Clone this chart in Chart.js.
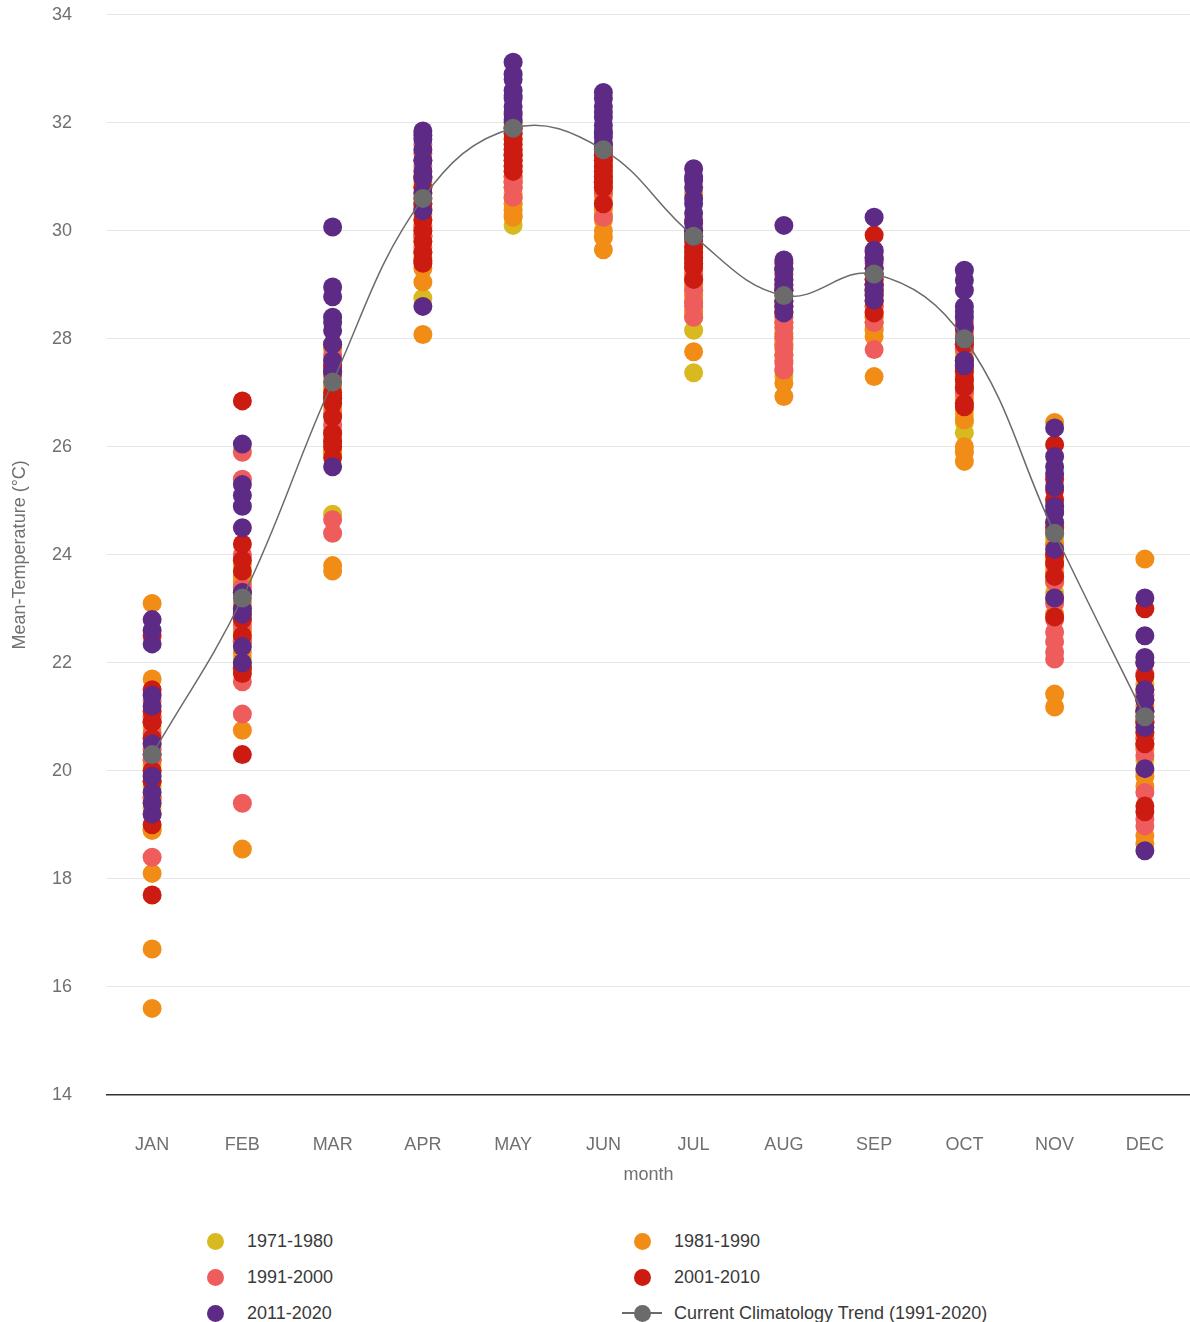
<!DOCTYPE html>
<html>
<head>
<meta charset="utf-8">
<script src="https://cdn.jsdelivr.net/npm/chart.js@4.4.0/dist/chart.umd.min.js"></script>
<style>
  body { margin: 0; background: #fff; font-family: "Liberation Sans", Arial, sans-serif; overflow: hidden; }
  #wrap { position: relative; width: 1190px; height: 1195px; }
  #leyenda { position: relative; width: 1190px; height: 127px; }
  .item { position: absolute; font-size: 18px; color: #3a3a3a; line-height: 20px; }
  .punto { position: absolute; width: 17px; height: 17px; border-radius: 50%; }
  .linea { position: absolute; height: 2px; background: #6b6b6b; }
</style>
</head>
<body>
<div id="wrap"><canvas id="grafico"></canvas></div>
<div id="leyenda"></div>
<script>
// Meses y tendencia climatologica
let meses = ["JAN", "FEB", "MAR", "APR", "MAY", "JUN", "JUL", "AUG", "SEP", "OCT", "NOV", "DEC"];
let tendencia = [20.3, 23.2, 27.2, 30.6, 31.9, 31.5, 29.9, 28.8, 29.2, 28.0, 24.4, 21.0];
let ticksY = [14, 16, 18, 20, 22, 24, 26, 28, 30, 32, 34];

// Temperatura media por decada (una fila por mes, un valor por año)
let d1971 = [
    [20.1, 18.9, 20.0, 19.5, 20.5, 19.8, 20.2, 19.3, 20.8, 19.7],
    [22.8, 23.0, 22.4, 23.5, 22.1, 23.8, 22.6, 22.9, 23.3, 22.0],
    [24.75, 27.0, 26.3, 27.5, 26.8, 25.9, 27.2, 26.6, 27.8, 26.0],
    [28.75, 29.8, 30.2, 30.5, 29.5, 30.9, 30.0, 29.9, 30.4, 29.6],
    [30.1, 30.5, 31.0, 30.8, 31.3, 30.3, 31.6, 30.9, 31.2, 30.7],
    [30.3, 30.8, 31.0, 30.6, 31.2, 30.9, 31.4, 30.5, 31.1, 30.7],
    [28.16, 27.37, 28.8, 29.2, 28.5, 29.5, 28.9, 29.0, 28.4, 29.4],
    [27.3, 28.0, 28.3, 27.9, 28.5, 27.7, 28.2, 28.6, 27.8, 28.1],
    [28.3, 28.6, 28.9, 28.2, 29.0, 28.5, 28.8, 29.1, 28.4, 28.7],
    [26.45, 26.26, 27.0, 27.4, 26.8, 27.7, 27.2, 26.6, 27.9, 27.1],
    [24.0, 23.6, 24.5, 23.3, 24.8, 23.9, 24.2, 23.7, 25.0, 24.3],
    [20.5, 21.0, 20.2, 21.3, 20.8, 21.6, 20.6, 21.1, 20.9, 21.4]
];
let d1981 = [
    [23.1, 21.7, 18.1, 16.7, 15.6, 18.9, 19.5, 20.6, 21.0, 20.2],
    [23.5, 22.6, 20.75, 18.55, 22.2, 23.1, 21.9, 22.8, 23.6, 22.4],
    [23.8, 23.7, 27.85, 26.9, 27.4, 26.2, 27.6, 26.7, 27.1, 25.9],
    [29.05, 28.08, 29.9, 30.3, 29.6, 30.7, 31.0, 29.3, 30.1, 30.5],
    [30.38, 30.25, 30.6, 31.1, 30.9, 31.4, 30.5, 31.7, 31.0, 30.8],
    [30.0, 29.88, 29.65, 30.4, 31.0, 30.7, 31.3, 30.2, 30.9, 31.1],
    [30.7, 28.66, 27.76, 29.0, 29.6, 28.8, 29.3, 28.5, 29.9, 29.1],
    [27.18, 26.93, 27.4, 27.9, 28.3, 27.6, 28.1, 28.5, 27.7, 28.0],
    [28.16, 28.04, 27.3, 28.6, 29.0, 28.4, 28.8, 29.2, 28.3, 28.9],
    [26.0, 25.9, 25.73, 26.5, 27.3, 26.9, 27.6, 27.1, 26.7, 27.8],
    [26.45, 23.67, 23.49, 21.42, 21.18, 23.9, 24.2, 22.9, 24.6, 23.2],
    [23.92, 19.72, 18.8, 18.65, 20.4, 21.2, 20.0, 21.5, 20.7, 19.9]
];
let d1991 = [
    [18.4, 20.4, 20.7, 21.0, 19.8, 20.2, 19.5, 21.3, 20.9, 19.2],
    [25.4, 25.9, 21.65, 21.05, 19.4, 22.4, 23.0, 24.0, 22.7, 23.4],
    [24.65, 24.4, 27.7, 27.3, 26.4, 26.9, 27.5, 26.1, 27.9, 26.6],
    [31.43, 30.07, 29.7, 31.6, 30.8, 31.2, 30.4, 29.9, 31.0, 30.6],
    [30.8, 30.62, 31.4, 31.2, 31.8, 31.0, 31.5, 30.9, 31.9, 31.3],
    [30.25, 30.7, 31.0, 31.3, 30.5, 31.5, 30.9, 31.2, 30.8, 31.4],
    [29.08, 28.9, 28.4, 29.3, 29.7, 28.7, 29.5, 30.0, 29.2, 28.6],
    [28.22, 28.04, 27.85, 27.55, 27.42, 28.4, 28.7, 28.9, 27.7, 28.3],
    [27.8, 28.5, 29.0, 28.7, 29.3, 28.3, 29.1, 28.9, 28.6, 29.4],
    [27.05, 27.5, 27.9, 27.3, 28.1, 27.6, 27.2, 28.3, 27.8, 27.0],
    [22.57, 22.39, 22.07, 23.5, 24.0, 22.8, 24.4, 23.1, 22.2, 23.8],
    [20.47, 20.28, 19.1, 18.98, 21.0, 21.4, 20.6, 21.8, 20.9, 19.6]
];
let d2001 = [
    [17.7, 19.0, 20.9, 20.6, 21.1, 22.5, 19.8, 20.3, 21.5, 20.0],
    [26.85, 23.9, 23.7, 22.5, 21.8, 20.3, 23.3, 22.8, 21.9, 24.2],
    [27.37, 26.8, 26.55, 26.25, 26.0, 25.8, 27.5, 26.1, 26.9, 27.0],
    [29.45, 29.4, 30.2, 30.8, 31.0, 29.8, 30.5, 31.3, 29.6, 30.0],
    [31.6, 31.1, 31.4, 31.8, 32.0, 31.3, 31.9, 31.5, 31.2, 31.7],
    [31.2, 31.0, 30.5, 31.4, 31.6, 31.1, 31.3, 30.8, 31.5, 30.9],
    [29.5, 29.33, 29.7, 30.0, 29.1, 29.8, 29.6, 30.2, 29.4, 29.9],
    [29.09, 28.7, 28.9, 29.2, 28.5, 29.3, 28.8, 29.0, 28.6, 29.4],
    [29.92, 28.48, 29.0, 29.3, 28.8, 29.5, 29.1, 28.7, 29.2, 29.6],
    [27.24, 26.8, 26.74, 27.5, 27.9, 28.2, 27.6, 27.1, 28.0, 27.4],
    [26.04, 25.02, 23.85, 22.85, 24.5, 25.4, 24.0, 24.8, 23.6, 25.2],
    [23.0, 21.75, 20.72, 19.35, 19.24, 21.1, 20.5, 21.3, 22.0, 20.9]
];
let d2011 = [
    [22.8, 22.6, 22.35, 21.4, 21.2, 19.9, 19.6, 19.4, 19.2, 20.5],
    [26.05, 25.3, 25.1, 24.9, 24.5, 23.3, 22.9, 22.3, 22.0, 23.0],
    [30.07, 28.96, 28.78, 28.4, 28.15, 27.6, 25.63, 27.9, 28.3, 27.4],
    [31.85, 31.77, 31.7, 31.1, 30.97, 30.37, 28.6, 31.3, 30.7, 31.5],
    [33.12, 32.9, 32.6, 32.45, 32.3, 32.15, 32.05, 32.5, 32.8, 32.2],
    [32.56, 32.45, 32.3, 32.1, 31.95, 31.85, 31.73, 31.6, 32.2, 31.8],
    [31.15, 30.93, 30.5, 30.33, 30.14, 30.8, 30.0, 31.0, 30.6, 29.9],
    [30.1, 29.46, 29.27, 28.6, 28.48, 29.1, 28.9, 29.3, 29.0, 28.7],
    [30.25, 29.64, 29.46, 28.84, 28.72, 29.3, 29.0, 29.5, 29.2, 28.9],
    [29.27, 29.09, 28.6, 28.4, 28.22, 27.6, 27.5, 28.9, 28.0, 28.5],
    [26.35, 25.82, 25.63, 25.26, 24.78, 24.6, 24.1, 23.2, 25.5, 24.9],
    [23.2, 22.5, 22.1, 22.0, 21.5, 21.32, 20.04, 18.52, 21.1, 20.8]
];

// Pasa las filas por mes a puntos {x: mes, y: valor}
function aPuntos(filas) {
    let puntos = [];
    filas.forEach(function (fila, i) {
        fila.forEach(function (v) {
            puntos.push({ x: meses[i], y: v });
        });
    });
    return puntos;
}

function decada(nombre, filas, color, orden) {
    return {
        label: nombre,
        data: aPuntos(filas),
        showLine: false,
        pointRadius: 9.5,
        pointHoverRadius: 9.5,
        pointBackgroundColor: color,
        pointBorderWidth: 0,
        backgroundColor: color,
        borderColor: color,
        order: orden
    };
}

let series = [
    decada("1971-1980", d1971, "#d8b91f", 5),
    decada("1981-1990", d1981, "#f18d17", 4),
    decada("1991-2000", d1991, "#ef5c5c", 3),
    decada("2001-2010", d2001, "#cc1b10", 2),
    decada("2011-2020", d2011, "#5d2a85", 1),
    {
        label: "Current Climatology Trend (1991-2020)",
        data: tendencia,
        borderColor: "#6b6b6b",
        backgroundColor: "#6b6b6b",
        borderWidth: 1.5,
        tension: 0.4,
        pointRadius: 9.5,
        pointBorderWidth: 0,
        pointBackgroundColor: "#6b6b6b",
        order: 0
    }
];

let fuente = "'Liberation Sans', Arial, sans-serif";

let ctx = document.getElementById("grafico").getContext("2d");
let grafico = new Chart(ctx, {
    type: "line",
    data: { labels: meses, datasets: series },
    options: {
        responsive: true,
        maintainAspectRatio: false,
        animation: false,
        layout: { autoPadding: false, padding: { top: 2, right: 0, bottom: 9, left: 9 } },
        plugins: {
            legend: { display: false },
            tooltip: { enabled: false }
        },
        scales: {
            x: {
                type: "category",
                offset: true,
                grid: { display: true, drawOnChartArea: false, drawTicks: true, tickLength: 39, tickColor: "transparent" },
                border: { display: true, color: "#333", width: 1.5 },
                ticks: { color: "#707070", font: { family: fuente, size: 18 }, padding: 0 },
                title: { display: true, text: "month", color: "#707070", font: { family: fuente, size: 18 }, padding: { top: 9, bottom: 0 } }
            },
            y: {
                min: 14,
                max: 34,
                afterBuildTicks: function (eje) {
                    eje.ticks = ticksY.map(function (v) { return { value: v }; });
                },
                afterFit: function (eje) {
                    eje.width = 98;
                },
                grid: { color: "#e6e6e6", drawTicks: true, tickLength: 31, tickColor: "transparent" },
                border: { display: false },
                ticks: { color: "#707070", font: { family: fuente, size: 18 }, padding: 4 },
                title: { display: true, text: "Mean-Temperature (°C)", color: "#707070", font: { family: fuente, size: 18 }, padding: { top: 0, bottom: 0 } }
            }
        }
    }
});

// Leyenda en dos columnas
let leyenda = document.getElementById("leyenda");
let columnas = [215, 642];
series.forEach(function (ds, i) {
    let col = columnas[i % 2];
    let fila = Math.floor(i / 2);
    let cy = 46 + fila * 36;
    if (i === 5) {
        let l = document.createElement("div");
        l.className = "linea";
        l.style.left = (col - 20) + "px";
        l.style.width = "40px";
        l.style.top = (cy - 1) + "px";
        leyenda.appendChild(l);
    }
    let p = document.createElement("div");
    p.className = "punto";
    p.style.background = ds.backgroundColor;
    p.style.left = (col - 8.5) + "px";
    p.style.top = (cy - 8.5) + "px";
    leyenda.appendChild(p);
    let t = document.createElement("div");
    t.className = "item";
    t.textContent = ds.label;
    t.style.left = (col + 32) + "px";
    t.style.top = (cy - 10) + "px";
    leyenda.appendChild(t);
});
</script>
</body>
</html>
